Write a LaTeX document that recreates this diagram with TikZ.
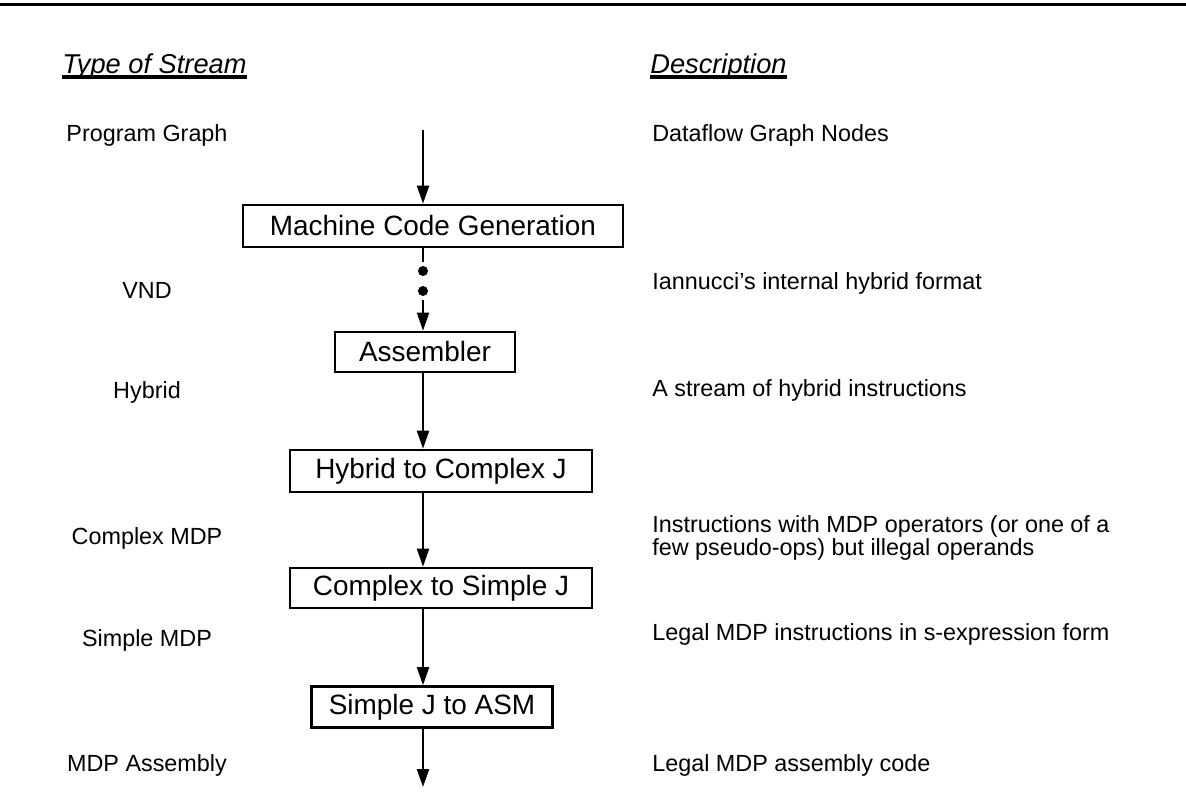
\documentclass[tikz,border=0pt]{standalone}
\usepackage{fontspec}
\setmainfont{Liberation Sans}
\usetikzlibrary{arrows.meta}
\usetikzlibrary{positioning}
\tikzset{stage/.style={shape=rectangle, draw=black, line width=1.5pt, inner sep=0pt,
    font=\fontsize{15.9}{18}\selectfont},
  kind/.style={inner sep=0pt, font=\fontsize{13.3}{15}\selectfont},
  desc/.style={inner sep=0pt, anchor=west, align=left, font=\fontsize{13.3}{13.6}\selectfont},
  heading/.style={inner sep=0pt, anchor=base west, font=\fontsize{15.5}{18}\selectfont\itshape},
  uline/.style={line width=2pt},
  flow/.style={line width=1.2pt, -{Triangle[length=3.6mm, width=2.4mm]}},
  dotnode/.style={circle, fill=black, inner sep=0pt, minimum size=2mm}}

\begin{document}
\begin{tikzpicture}[x=0.02cm, y=-0.02cm]
    \useasboundingbox (0,0) rectangle (1186,794);
    \draw[line width=0.06cm] (0,5) -- (1186,5);

    % column headings
    \node[heading] (tos) at (62,73) {Type of Stream};
    \node[heading] (dsc) at (650,73) {Description};
    \draw[uline] ([yshift=-0.08cm]tos.base west) -- ([yshift=-0.08cm]tos.base east);
    \draw[uline] ([yshift=-0.08cm]dsc.base west) -- ([yshift=-0.08cm]dsc.base east);

    % stages
    \node[stage, minimum width=7.6cm, minimum height=0.84cm] (mcg) at (433,226) {Machine Code Generation};
    \node[stage, minimum width=3.6cm, minimum height=0.8cm] (asm) at (425,352) {Assembler};
    \node[stage, minimum width=6.04cm, minimum height=0.84cm] (hcj) at (441,471) {Hybrid to Complex J};
    \node[stage, minimum width=6.04cm, minimum height=0.8cm] (csj) at (441,588) {Complex to Simple J};
    \node[stage, minimum width=4.82cm, minimum height=0.82cm] (sja) at (432,707) {Simple J to ASM};

    \coordinate (src) at (423,130);
    \coordinate (sink) at (423,787);
    \node[dotnode] (d1) at (423,271) {};
    \node[dotnode] (d2) at (423,291) {};

    % stream kinds
    \node[kind] (pg) at (147,135) {Program Graph};
    \node[kind] (vnd) at (147,290) {VND};
    \node[kind] (hyb) at (147,392) {Hybrid};
    \node[kind] (cmdp) at (147,538) {Complex MDP};
    \node[kind] (smdp) at (147,640) {Simple MDP};
    \node[kind] (mdpa) at (147,765) {MDP Assembly};

    % descriptions
    \node[desc] (dfg) at (652,135) {Dataflow Graph Nodes};
    \node[desc] (ian) at (652,283) {Iannucci's internal hybrid format};
    \node[desc] (his) at (652,390) {A stream of hybrid instructions};
    \node[desc] (ops) at (652,538) {Instructions with MDP operators (or one of a\\few pseudo-ops) but illegal operands};
    \node[desc] (sex) at (652,634) {Legal MDP instructions in s-expression form};
    \node[desc] (lac) at (652,765) {Legal MDP assembly code};

    % flow
    \draw[flow] (src) -- (src |- mcg.north);
    \draw[line width=1.2pt, shorten >=0.08cm] (mcg.south -| src) -- (d1);
    \draw[flow, shorten <=0.08cm] (d2) -- (asm.north -| src);
    \draw[flow] (asm.south -| src) -- (hcj.north -| src);
    \draw[flow] (hcj.south -| src) -- (csj.north -| src);
    \draw[flow] (csj.south -| src) -- (sja.north -| src);
    \draw[flow] (sja.south -| src) -- (sink);
\end{tikzpicture}
\end{document}
